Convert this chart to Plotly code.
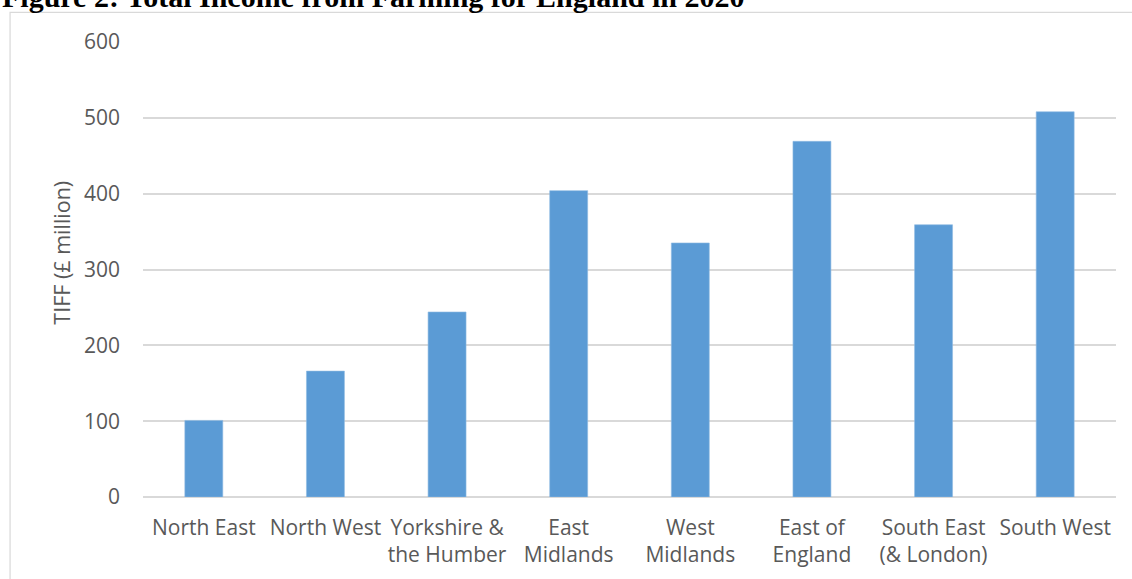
import plotly.graph_objects as go

# Total Income from Farming (TIFF) by English region, 2020, £ million
regions = [
    "North East", "North West", "Yorkshire & the Humber", "East Midlands",
    "West Midlands", "East of England", "South East (& London)", "South West",
]
tiff_million = [101, 166, 244, 404, 335, 469, 359, 508]
region_labels = [
    "North East", "North West", "Yorkshire &<br>the Humber", "East<br>Midlands",
    "West<br>Midlands", "East of<br>England", "South East<br>(& London)", "South West",
]
y_ticks = [0, 100, 200, 300, 400, 500, 600]

W, H = 1132, 579
L, R, T, B = 142.5, 16, 41.7, 82
plot_w = W - L - R
plot_h = H - T - B

def px_x(px):
    return (px - L) / plot_w

def px_y(py):
    return (H - B - py) / plot_h

axis_font = dict(family="Open Sans", size=21, color="#595959")
grid = "#d9d9d9"

fig = go.Figure(
    go.Bar(
        x=regions,
        y=tiff_million,
        marker=dict(color="#5b9bd5", line=dict(color="#8fbbe3", width=0.6)),
        hoverinfo="x+y",
    )
)

fig.update_layout(
    width=W,
    height=H,
    margin=dict(l=L, r=R, t=T, b=B, pad=0),
    paper_bgcolor="white",
    plot_bgcolor="white",
    bargap=0.688,
    showlegend=False,
    font=axis_font,
)

fig.update_xaxes(
    tickmode="array",
    tickvals=regions,
    ticktext=region_labels,
    tickfont=axis_font,
    ticks="",
    showgrid=False,
    showline=False,
    ticklabelstandoff=16,
)

fig.update_yaxes(
    range=[0, 600],
    tickvals=y_ticks,
    tickfont=axis_font,
    ticks="",
    showgrid=True,
    gridcolor=grid,
    gridwidth=1.5,
    zeroline=True,
    zerolinecolor=grid,
    zerolinewidth=1.5,
    showline=False,
    ticklabelstandoff=22,
)

# Value axis title
fig.add_annotation(
    xref="paper", yref="paper",
    x=px_x(61), y=px_y(253),
    xanchor="center", yanchor="middle",
    text="TIFF (£ million)",
    textangle=-90,
    showarrow=False,
    font=dict(family="Open Sans", size=21.5, color="#595959"),
)

# Chart frame (left and top edges visible)
fig.add_shape(
    type="rect", xref="paper", yref="paper",
    x0=px_x(9.5), x1=px_x(W + 20), y0=px_y(H + 20), y1=px_y(12),
    line=dict(color=grid, width=1.2), fillcolor="rgba(0,0,0,0)", layer="below",
)

# Figure caption above the chart
fig.add_annotation(
    xref="paper", yref="paper",
    x=px_x(0), y=px_y(14),
    xanchor="left", yanchor="bottom",
    text="<b>Figure 2: Total Income from Farming for England in 2020</b>",
    showarrow=False,
    font=dict(family="Liberation Serif", size=30, color="black"),
    borderpad=0,
)

fig.write_html("out.html")
